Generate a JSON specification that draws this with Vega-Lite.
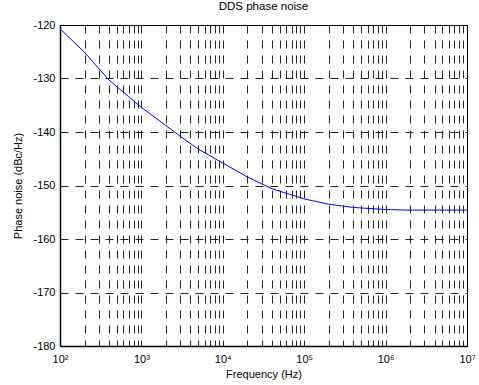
{
  "$schema": "https://vega.github.io/schema/vega-lite/v6.json",
  "autosize": {"type": "none"},
  "padding": {"left": 60, "top": 25, "right": 12, "bottom": 39},
  "width": 407,
  "height": 321,
  "background": "#ffffff",
  "title": {
    "text": "DDS phase noise",
    "font": "Liberation Sans",
    "fontSize": 11.5,
    "fontWeight": "normal",
    "color": "#000000",
    "offset": 7
  },
  "data": {
    "values": [
      {"f": 100, "pn": -120.7},
      {"f": 200, "pn": -125.1},
      {"f": 400, "pn": -130.3},
      {"f": 700, "pn": -133.4},
      {"f": 1000, "pn": -135.4},
      {"f": 2000, "pn": -138.8},
      {"f": 3000, "pn": -140.8},
      {"f": 5000, "pn": -143.2},
      {"f": 10000, "pn": -145.8},
      {"f": 20000, "pn": -148.4},
      {"f": 40000, "pn": -150.6},
      {"f": 100000, "pn": -152.5},
      {"f": 200000, "pn": -153.5},
      {"f": 400000, "pn": -154.1},
      {"f": 1000000, "pn": -154.5},
      {"f": 2000000, "pn": -154.6},
      {"f": 10000000, "pn": -154.6}
    ]
  },
  "mark": {"type": "line", "color": "#0000ff", "strokeWidth": 1, "clip": true},
  "encoding": {
    "x": {
      "field": "f",
      "type": "quantitative",
      "scale": {"type": "log", "domain": [100, 10000000], "nice": false},
      "axis": {
        "title": "Frequency (Hz)",
        "values": [100, 200, 300, 400, 500, 600, 700, 800, 900,
                   1000, 2000, 3000, 4000, 5000, 6000, 7000, 8000, 9000,
                   10000, 20000, 30000, 40000, 50000, 60000, 70000, 80000, 90000,
                   100000, 200000, 300000, 400000, 500000, 600000, 700000, 800000, 900000,
                   1000000, 2000000, 3000000, 4000000, 5000000, 6000000, 7000000, 8000000, 9000000,
                   10000000],
        "labelExpr": "datum.value == 100 ? '10²' : datum.value == 1000 ? '10³' : datum.value == 10000 ? '10⁴' : datum.value == 100000 ? '10⁵' : datum.value == 1000000 ? '10⁶' : datum.value == 10000000 ? '10⁷' : ''",
        "labelFlush": false,
        "labelOverlap": false,
        "labelPadding": 7,
        "titlePadding": 4
      }
    },
    "y": {
      "field": "pn",
      "type": "quantitative",
      "scale": {"domain": [-180, -120], "nice": false, "zero": false},
      "axis": {
        "title": "Phase noise (dBc/Hz)",
        "values": [-180, -170, -160, -150, -140, -130, -120],
        "labelExpr": "'' + datum.value",
        "labelPadding": 5,
        "titlePadding": 9
      }
    }
  },
  "config": {
    "view": {"stroke": "#000000", "strokeWidth": 1},
    "axis": {
      "domainColor": "#000000",
      "domainWidth": 1.5,
      "ticks": false,
      "grid": true,
      "gridColor": "#000000",
      "gridOpacity": 0.85,
      "gridWidth": 1,
      "gridDash": [8, 7],
      "labelFont": "Liberation Sans",
      "labelFontSize": 11,
      "labelColor": "#000000",
      "titleFont": "Liberation Sans",
      "titleFontSize": 11,
      "titleFontWeight": "normal",
      "titleColor": "#000000"
    }
  }
}
